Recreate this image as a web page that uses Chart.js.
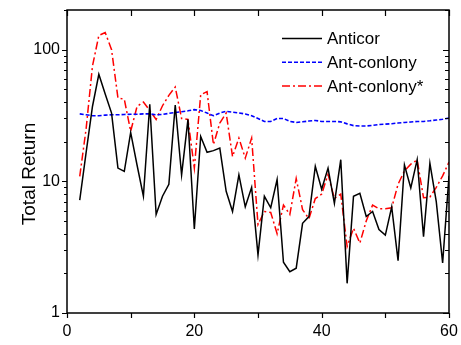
<!DOCTYPE html>
<html>
<head>
<meta charset="utf-8">
<script src="https://cdn.jsdelivr.net/npm/chart.js@4.4.1/dist/chart.umd.min.js"></script>
<style>
  html, body { margin: 0; padding: 0; background: #fff; }
  #wrap { width: 461px; height: 345px; position: relative; }
</style>
</head>
<body>
<div id="wrap"><canvas id="myChart" width="461" height="345"></canvas></div>
<script>
// period index (x axis)
var periods = [2, 3, 4, 5, 6, 7, 8, 9, 10, 11, 12, 13, 14, 15, 16, 17, 18, 19, 20,
	21, 22, 23, 24, 25, 26, 27, 28, 29, 30, 31, 32, 33, 34, 35, 36, 37, 38, 39, 40,
	41, 42, 43, 44, 45, 46, 47, 48, 49, 50, 51, 52, 53, 54, 55, 56, 57, 58, 59, 60];

var anticor = [7.2, 16.5, 37, 65, 46, 33, 12.6, 11.9, 23.5, 13.3, 7.7, 38.5, 5.6, 7.7, 9.5, 38, 11.2, 29.5, 4.35,
	21.9, 16.6, 17.1, 17.9, 8.4, 5.9, 11.2, 6.4, 9.0, 2.76, 7.7, 6.3, 10.3, 2.43, 2.06, 2.19, 4.8, 5.4, 13, 8.7,
	12.6, 6.8, 14.6, 1.68, 7.7, 8.1, 5.4, 5.9, 4.3, 3.9, 6.4, 2.5, 13.3, 8.9, 14.6, 3.8, 13.7, 7.0, 2.4, 11];

var antColony = [32.5, 32, 31.5, 31.5, 31.8, 32, 32, 32.2, 32.3, 32.3, 32.5, 32.5, 32, 32.2, 32.8, 33.3, 33.8, 34.3, 35,
	34.5, 33, 31.5, 33, 34, 33.5, 33, 32.5, 31.5, 30, 28.5, 28.5, 30, 30, 28.5, 28, 28.3, 28.7, 29, 28.5,
	28.5, 28.5, 28.3, 27.3, 26.5, 26.3, 26.3, 26.6, 27, 27.2, 27.4, 27.7, 28, 28.2, 28.5, 28.5, 28.8, 29.2, 29.6, 30.2];

var antColonyStar = [10.9, 25, 75, 128, 135, 100, 43, 42, 24, 37, 40, 34.5, 29.5, 37.5, 45, 52, 30, 29.5, 12.6,
	45.5, 48, 19, 27.7, 33, 15.4, 21.3, 15, 21.3, 4.7, 5.9, 5.8, 4.0, 6.6, 5.6, 10.5, 6.1, 5.2, 7.4, 8.0,
	11.3, 7.4, 8.0, 3.2, 4.4, 3.4, 5.0, 6.6, 6.2, 6.2, 6.3, 9.5, 12, 13.5, 14.5, 7.5, 7.6, 9, 11, 14];

var seriesLabels = ['Anticor', 'Ant-conlony', 'Ant-conlony*'];

var yTicks = [1, 2, 3, 4, 5, 6, 7, 8, 9, 10, 20, 30, 40, 50, 60, 70, 80, 90, 100, 200];
var yLabelled = [1, 10, 100];
var xTicks = [0, 10, 20, 30, 40, 50, 60];
var xLabelled = [0, 20, 40, 60];

var FONT = "'Liberation Sans', Arial, sans-serif";

function toPoints(values) {
	var pts = [];
	for (var i = 0; i < values.length; i++) {
		pts.push({ x: periods[i], y: values[i] });
	}
	return pts;
}

function getDataset(values, label, color, dash, width) {
	return {
		label: label,
		data: toPoints(values),
		borderColor: color,
		backgroundColor: color,
		borderWidth: width,
		borderDash: dash,
		pointRadius: 0,
		tension: 0,
		fill: false
	};
}

// frame, tick marks, legend and y title
var framePlugin = {
	id: 'frame',
	afterDraw: function (chart) {
		var ctx = chart.ctx;
		var a = chart.chartArea;
		var xs = chart.scales.x;
		var ys = chart.scales.y;
		ctx.save();
		ctx.strokeStyle = '#000';
		ctx.lineWidth = 1.5;
		ctx.strokeRect(a.left, a.top, a.right - a.left, a.bottom - a.top);

		ctx.lineWidth = 1.2;
		ctx.beginPath();
		for (var i = 0; i < yTicks.length; i++) {
			var v = yTicks[i];
			var py = Math.round(ys.getPixelForValue(v)) + 0.5;
			var major = yLabelled.indexOf(v) >= 0;
			var lenOut = major ? 5 : 3;
			var lenIn = major ? 6 : 4;
			ctx.moveTo(a.left - lenOut, py);
			ctx.lineTo(a.left, py);
			ctx.moveTo(a.right - lenIn, py);
			ctx.lineTo(a.right, py);
		}
		for (var j = 0; j < xTicks.length; j++) {
			var px = Math.round(xs.getPixelForValue(xTicks[j])) + 0.5;
			ctx.moveTo(px, a.bottom);
			ctx.lineTo(px, a.bottom + 5);
			ctx.moveTo(px, a.top);
			ctx.lineTo(px, a.top + 6);
		}
		ctx.stroke();

		// legend
		var ds = chart.data.datasets;
		ctx.font = '17px ' + FONT;
		ctx.fillStyle = '#000';
		ctx.textBaseline = 'middle';
		ctx.textAlign = 'left';
		for (var k = 0; k < ds.length; k++) {
			var ly = 38.5 + k * 23.7;
			ctx.beginPath();
			ctx.strokeStyle = ds[k].borderColor;
			ctx.lineWidth = ds[k].borderWidth;
			ctx.setLineDash(ds[k].borderDash);
			ctx.moveTo(282, ly);
			ctx.lineTo(322, ly);
			ctx.stroke();
			ctx.setLineDash([]);
			ctx.fillText(ds[k].label, 327, ly + 1);
		}

		// y axis title
		ctx.translate(30, 174);
		ctx.rotate(-Math.PI / 2);
		ctx.textAlign = 'center';
		ctx.font = '19px ' + FONT;
		ctx.fillText('Total Return', 0, 0);
		ctx.restore();
	}
};

var chart = new Chart(document.getElementById('myChart').getContext('2d'), {
	type: 'line',
	data: {
		datasets: [
			getDataset(anticor, seriesLabels[0], '#000000', [], 1.5),
			getDataset(antColony, seriesLabels[1], '#0000ff', [4, 2], 1.6),
			getDataset(antColonyStar, seriesLabels[2], '#ff0000', [8, 3, 2, 3], 1.5)
		]
	},
	options: {
		responsive: false,
		animation: false,
		layout: { padding: { left: 0, right: 12, top: 10, bottom: 0 } },
		plugins: {
			legend: { display: false },
			tooltip: { enabled: false }
		},
		scales: {
			x: {
				type: 'linear',
				min: 0,
				max: 60,
				grid: { display: false, drawTicks: false },
				border: { display: false },
				afterBuildTicks: function (scale) {
					scale.ticks = xTicks.map(function (v) { return { value: v }; });
				},
				afterFit: function (scale) {
					scale.height = 32;
					scale.paddingLeft = 0;
					scale.paddingRight = 0;
				},
				ticks: {
					autoSkip: false,
					maxRotation: 0,
					padding: 9,
					color: '#000',
					font: { family: FONT, size: 16 },
					callback: function (v) { return xLabelled.indexOf(v) >= 0 ? String(v) : ''; }
				}
			},
			y: {
				type: 'logarithmic',
				min: 1,
				max: 200,
				grid: { display: false, drawTicks: false },
				border: { display: false },
				afterBuildTicks: function (scale) {
					scale.ticks = yTicks.map(function (v) { return { value: v }; });
				},
				afterFit: function (scale) {
					scale.width = 67;
					scale.paddingTop = 0;
					scale.paddingBottom = 0;
				},
				ticks: {
					autoSkip: false,
					padding: 7,
					color: '#000',
					font: { family: FONT, size: 16 },
					callback: function (v) { return yLabelled.indexOf(v) >= 0 ? String(v) : ''; }
				}
			}
		}
	},
	plugins: [framePlugin]
});
</script>
</body>
</html>
